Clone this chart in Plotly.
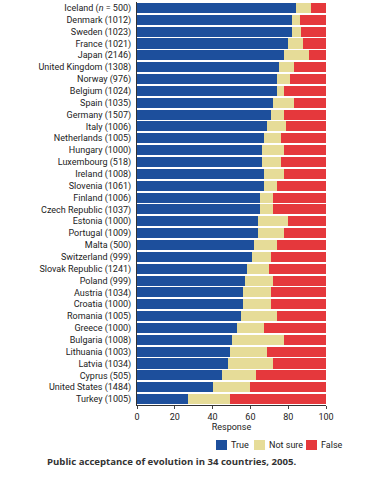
import plotly.graph_objects as go

countries = [
    "Iceland (<i>n</i> = 500)", "Denmark (1012)", "Sweden (1023)", "France (1021)",
    "Japan (2146)", "United Kingdom (1308)", "Norway (976)", "Belgium (1024)",
    "Spain (1035)", "Germany (1507)", "Italy (1006)", "Netherlands (1005)",
    "Hungary (1000)", "Luxembourg (518)", "Ireland (1008)", "Slovenia (1061)",
    "Finland (1006)", "Czech Republic (1037)", "Estonia (1000)", "Portugal (1009)",
    "Malta (500)", "Switzerland (999)", "Slovak Republic (1241)", "Poland (999)",
    "Austria (1034)", "Croatia (1000)", "Romania (1005)", "Greece (1000)",
    "Bulgaria (1008)", "Lithuania (1003)", "Latvia (1034)", "Cyprus (505)",
    "United States (1484)", "Turkey (1005)",
]
true_vals = [84, 82, 82, 80, 78, 75, 74, 74, 72, 71, 69, 67, 66, 66, 67, 67, 65,
             65, 64, 64, 62, 61, 58, 57, 56, 56, 55, 53, 50, 49, 48, 45, 40, 27]
not_sure_vals = [8, 4, 5, 8, 13, 8, 7, 4, 11, 7, 10, 9, 12, 10, 11, 7, 7,
                 7, 16, 14, 12, 10, 12, 15, 15, 15, 19, 14, 28, 20, 24, 18, 20, 22]
false_vals = [100 - t - n for t, n in zip(true_vals, not_sure_vals)]
x_ticks = [0, 20, 40, 60, 80, 100]
series_names = ["True", "Not sure", "False"]
colors = ["#1d4f9c", "#e6dc98", "#e5383c"]

W, H = 369, 480
L, R, T, B = 137, 43, 2, 75
pw, ph = W - L - R, H - T - B

def px_x(p):
    return (p - L) / pw

def px_y(p):
    return (H - B - p) / ph

fig = go.Figure()
for name, vals, col in zip(series_names, [true_vals, not_sure_vals, false_vals], colors):
    fig.add_trace(go.Bar(
        y=countries, x=vals, orientation="h", name=name,
        marker=dict(color=col, line=dict(width=0)), showlegend=False,
    ))

# compact legend drawn as swatches + labels
legend_x = [216, 254, 306]
legend_y = 445
shapes, annotations = [], []
for name, col, lx in zip(series_names, colors, legend_x):
    shapes.append(dict(
        type="rect", xref="paper", yref="paper",
        x0=px_x(lx), x1=px_x(lx + 11), y0=px_y(legend_y + 5), y1=px_y(legend_y - 5),
        fillcolor=col, line=dict(width=0),
    ))
    annotations.append(dict(
        text=name, xref="paper", yref="paper", x=px_x(lx + 13), y=px_y(legend_y),
        xanchor="left", yanchor="middle", showarrow=False,
        font=dict(family="Roboto, sans-serif", size=9, color="#222"),
    ))

annotations.append(dict(
    text="<b>Public acceptance of evolution in 34 countries, 2005.</b>",
    xref="paper", yref="paper", x=px_x(171), y=px_y(461),
    xanchor="center", yanchor="middle", showarrow=False,
    font=dict(family="Open Sans, sans-serif", size=9.6, color="#333"),
))

fig.update_layout(
    barmode="stack",
    bargap=0.15,
    width=W, height=H,
    margin=dict(l=L, r=R, t=T, b=B, autoexpand=False),
    paper_bgcolor="white", plot_bgcolor="white",
    font=dict(family="Roboto, sans-serif", size=9, color="#222"),
    showlegend=False,
    xaxis=dict(
        range=[0, 100], tickvals=x_ticks, ticks="outside", ticklen=3,
        showline=True, linecolor="#333", linewidth=1, showgrid=False, zeroline=False,
        title=dict(text="Response", standoff=2, font=dict(size=9)),
        tickfont=dict(size=9),
    ),
    yaxis=dict(
        autorange="reversed", showline=True, linecolor="#333", linewidth=1,
        showgrid=False, ticks="", tickfont=dict(size=9), ticklabelstandoff=3,
        tickmode="array", tickvals=countries, automargin=False,
    ),
    shapes=shapes,
    annotations=annotations,
)

fig.write_html(
    "out.html",
    config={"displayModeBar": False},
    post_script="document.body.style.margin='0';",
)
